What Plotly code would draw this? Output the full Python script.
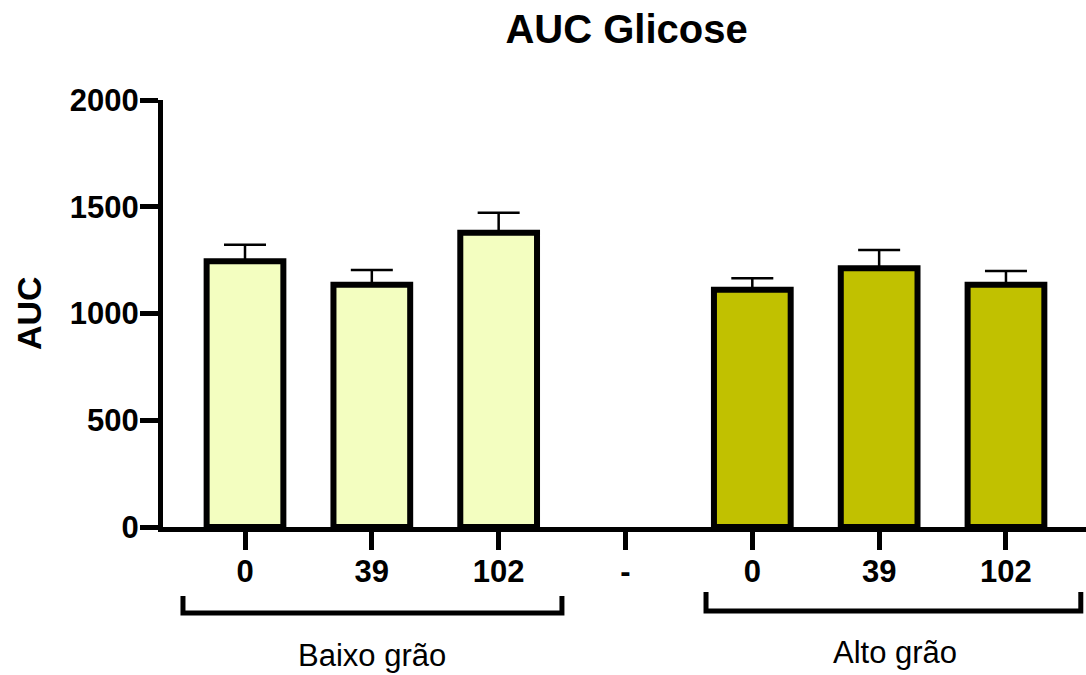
import plotly.graph_objects as go

# ---- data ----
doses = ["0", "39", "102"]
baixo_mean = [1245, 1135, 1378]
baixo_err = [77, 69, 94]
alto_mean = [1111, 1212, 1135]
alto_err = [54, 85, 64]
tick_labels = ["0", "39", "102", "-", "0", "39", "102"]
group_names = ["Baixo grão", "Alto grão"]

baixo_x = [0, 1, 2]
alto_x = [4, 5, 6]

FONT = "Liberation Sans, Arial, Helvetica, sans-serif"
fig = go.Figure()

fig.add_trace(go.Bar(
    x=baixo_x, y=baixo_mean, width=0.605, name=group_names[0],
    marker=dict(color="#F3FEC0", line=dict(color="black", width=6)),
    error_y=dict(type="data", symmetric=False, array=baixo_err,
                 arrayminus=[0] * len(baixo_err), color="black",
                 thickness=2.5, width=21),
    customdata=doses,
))
fig.add_trace(go.Bar(
    x=alto_x, y=alto_mean, width=0.605, name=group_names[1],
    marker=dict(color="#C1C100", line=dict(color="black", width=6)),
    error_y=dict(type="data", symmetric=False, array=alto_err,
                 arrayminus=[0] * len(alto_err), color="black",
                 thickness=2.5, width=21),
    customdata=doses,
))

# group brackets
for x0, x1, ytop, ybot in [(-0.489, 2.499, -0.1616, -0.2014), (3.635, 6.59, -0.1522, -0.1967)]:
    fig.add_shape(type="path", xref="x", yref="paper",
                  path=f"M {x0},{ytop} L {x0},{ybot} L {x1},{ybot} L {x1},{ytop}",
                  line=dict(color="black", width=5))

fig.add_annotation(text=group_names[0], x=1.0, y=-0.30, xref="x", yref="paper",
                   showarrow=False, font=dict(family=FONT, size=31, color="black"),
                   xanchor="center", yanchor="middle")
fig.add_annotation(text=group_names[1], x=5.125, y=-0.293, xref="x", yref="paper",
                   showarrow=False, font=dict(family=FONT, size=31, color="black"),
                   xanchor="center", yanchor="middle")

# y axis title
fig.add_annotation(text="<b>AUC</b>", x=-0.1457, y=0.5, xref="paper", yref="paper",
                   textangle=-90, showarrow=False,
                   font=dict(family=FONT, size=34, color="black"),
                   xanchor="center", yanchor="middle")

fig.update_layout(
    width=1086, height=675,
    margin=dict(l=163, r=0, t=100, b=148, autoexpand=False),
    paper_bgcolor="white", plot_bgcolor="white",
    barmode="overlay", showlegend=False,
    font=dict(family=FONT, color="black"),
    title=dict(text="<b>AUC Glicose</b>", x=0.577, xref="container", xanchor="center",
               y=0.957, yref="container", yanchor="middle",
               font=dict(family=FONT, size=40, color="black")),
    xaxis=dict(range=[-0.6465, 6.631], tickmode="array",
               tickvals=list(range(len(tick_labels))), ticktext=tick_labels,
               showline=True, linewidth=5, linecolor="black",
               ticks="outside", ticklen=18, tickwidth=5, tickcolor="black",
               showgrid=False, zeroline=False, ticklabelstandoff=-5,
               tickfont=dict(family=FONT, size=31, color="black", weight="bold")),
    yaxis=dict(range=[0, 2000], tickmode="array", tickvals=[0, 500, 1000, 1500, 2000],
               showline=True, linewidth=5, linecolor="black",
               ticks="outside", ticklen=18, tickwidth=5, tickcolor="black",
               showgrid=False, zeroline=False, ticklabelstandoff=-5,
               tickfont=dict(family=FONT, size=31, color="black", weight="bold")),
)

fig.write_html("out.html")
